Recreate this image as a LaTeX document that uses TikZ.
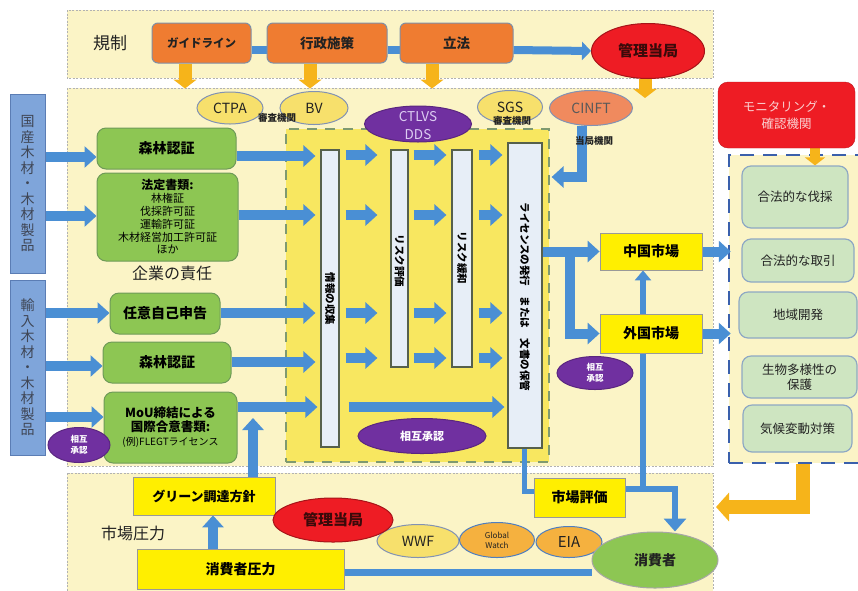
\documentclass[tikz,border=0pt]{standalone}
\usepackage{fontspec}
\setmainfont{Noto Sans CJK JP}
\usetikzlibrary{arrows.meta,shapes.geometric}
\pgfdeclarelayer{bg}
\pgfdeclarelayer{conn}
\pgfsetlayers{bg,conn,main}
\newcommand{\fsz}[2]{\fontsize{#1}{#2}\selectfont}
\definecolor{regY}{HTML}{FBF4C6}
\definecolor{innY}{HTML}{F8E760}
\definecolor{orF}{HTML}{EF7C31}
\definecolor{orB}{HTML}{7F8FA6}
\definecolor{redF}{HTML}{EE1C24}
\definecolor{grF}{HTML}{8DC653}
\definecolor{grB}{HTML}{6E9A58}
\definecolor{lgF}{HTML}{CEE5C1}
\definecolor{lgB}{HTML}{8EA8C4}
\definecolor{bbF}{HTML}{7FA5DA}
\definecolor{bbB}{HTML}{5B7DB4}
\definecolor{bbT}{HTML}{3F4655}
\definecolor{arB}{HTML}{4A8FD4}
\definecolor{arY}{HTML}{F6B41A}
\definecolor{puF}{HTML}{7030A0}
\definecolor{lav}{HTML}{DCCDF2}
\definecolor{yeE}{HTML}{F7E06C}
\definecolor{ellB}{HTML}{8192B4}
\definecolor{saF}{HTML}{F08A5E}
\definecolor{goF}{HTML}{F5B13F}
\definecolor{goB}{HTML}{4E7EC0}
\definecolor{ybF}{HTML}{FFEF00}
\definecolor{ybB}{HTML}{999999}
\definecolor{wbF}{HTML}{E7EEF7}
\definecolor{wbB}{HTML}{56604C}
\definecolor{gdash}{HTML}{7F9A70}
\definecolor{bdash}{HTML}{3A60AC}
\definecolor{txt}{HTML}{222222}
\definecolor{redT}{HTML}{3A0A0A}
\definecolor{pinkT}{HTML}{FAD0D0}
\begin{document}
\begin{tikzpicture}[x=1pt,y=-1pt,
  region/.style={draw=gray!60, dash pattern=on 2pt off 1.5pt, line width=0.8pt, fill=regY},
  obox/.style={rectangle, rounded corners=6pt, draw=orB, line width=1pt, fill=orF, text=txt, font=\bfseries\fsz{13.5}{16}, inner sep=0pt},
  gbox/.style={rectangle, rounded corners=9pt, draw=grB, line width=1pt, fill=grF, text=black, inner sep=0pt, font=\bfseries\fsz{14}{16}},
  lgbox/.style={rectangle, rounded corners=9pt, draw=lgB, line width=1.2pt, fill=lgF, text=txt, inner sep=0pt, font=\fsz{12.5}{15}},
  ybox/.style={rectangle, draw=ybB, line width=0.8pt, fill=ybF, text=black, inner sep=0pt, font=\bfseries\fsz{14}{16}},
  bbar/.style={rectangle, draw=bbB, line width=1pt, fill=bbF, text=bbT, inner sep=0pt, align=center, font=\fsz{14}{15.5}},
  wbar/.style={rectangle, draw=wbB, line width=1.2pt, fill=wbF, inner sep=0pt},
  vtext/.style={rotate=-90, font=\bfseries\fsz{10.5}{12}, text=black, inner sep=0pt},
  ell/.style={ellipse, inner sep=0pt, line width=1pt},
  yell/.style={ell, fill=yeE, draw=ellB, text=txt, font=\fsz{14}{16}},
  pell/.style={ell, fill=puF, draw=puF!80!black, text=white},
  rell/.style={ell, fill=redF, draw=redF!70!black, text=redT, font=\bfseries\fsz{15}{17}},
  oell/.style={ell, fill=goF, draw=goB, text=txt},
  smlab/.style={font=\bfseries\fsz{9.5}{11}, inner sep=0pt, text=txt},
  plain/.style={inner sep=0pt, text=txt},
  barr/.style={draw=arB, line width=10pt, -{Triangle[width=21pt,length=12pt]}},
  bline/.style={draw=arB, line width=8pt},
  yarr/.style={draw=arY, line width=13pt, -{Triangle[width=23pt,length=9pt]}}
]
\useasboundingbox (0,0) rectangle (858,590);
\begin{pgfonlayer}{bg}
\fill[white] (0,0) rectangle (858,590);
\draw[region] (67,10) rectangle (713,78);
\draw[region] (67,88) rectangle (713,466);
\draw[region] (67,473) rectangle (713,600);
\node[draw=gdash, dash pattern=on 10pt off 8pt, line width=2.5pt, fill=innY, minimum width=263, minimum height=333, inner sep=0pt] (inner) at (417.5,295.5) {};
\node[draw=bdash, dash pattern=on 14pt off 9pt, line width=2.5pt, fill=regY, minimum width=146, minimum height=308, inner sep=0pt] (mbox) at (802,309) {};
\end{pgfonlayer}

% ---------- top band
\node[plain, font=\fsz{17}{20}] (reg) at (110,43) {規制};
\node[obox, minimum width=99, minimum height=40, font=\bfseries\fsz{11.5}{14}] (gl) at (201.5,43) {ガイドライン};
\node[obox, minimum width=120, minimum height=40] (gs) at (327,43) {行政施策};
\node[obox, minimum width=113, minimum height=40] (lw) at (456.5,43) {立法};
\node[rell, minimum width=113, minimum height=55] (ma1) at (648,51) {管理当局};

% ---------- agencies
\node[yell, minimum width=66, minimum height=32] (ctpa) at (230,108) {CTPA};
\node[yell, minimum width=68, minimum height=33] (bv) at (314,108) {BV};
\node[pell, minimum width=107, minimum height=36] (ctlvs) at (418,124) {};
\node[plain, font=\fsz{13.5}{18}, text=lav, align=center] (ctlvsT) at (418,126) {CTLVS\\DDS};
\node[yell, minimum width=65, minimum height=33] (sgs) at (510,107) {SGS};
\node[ell, fill=saF, draw=ellB, text=txt!75, font=\fsz{14}{16}, minimum width=83, minimum height=35] (cinft) at (591,108) {CINFT};
\node[smlab] (sa1) at (277,118) {審査機関};
\node[smlab] (sa2) at (512,121) {審査機関};
\node[smlab] (ta) at (594,141) {当局機関};

% ---------- left bars
\node[bbar, minimum width=35, minimum height=179] (bb1) at (27.5,183.5) {国\\産\\木\\材\\・\\木\\材\\製\\品};
\node[bbar, minimum width=35, minimum height=175] (bb2) at (27.5,367.5) {輸\\入\\木\\材\\・\\木\\材\\製\\品};

% ---------- green boxes
\node[gbox, minimum width=139, minimum height=41] (fs1) at (166.5,148.5) {森林認証};
\node[gbox, minimum width=141, minimum height=88, align=center, font=\fsz{11}{12.8}] (ld) at (167.5,217) {{\bfseries\fsz{12}{12.8}法定書類:}\\林権証\\伐採許可証\\運輸許可証\\木材経営加工許可証\\ほか};
\node[plain, font=\fsz{16}{18}] (resp) at (172,273) {企業の責任};
\node[gbox, minimum width=110, minimum height=41] (vs) at (165,313.5) {任意自己申告};
\node[gbox, minimum width=128, minimum height=41] (fs2) at (167,362.5) {森林認証};
\node[gbox, minimum width=133, minimum height=71, align=center, font=\bfseries\fsz{12.5}{14}] (mou) at (170.5,427.5) {MoU締結による\\国際合意書類:\\{\mdseries\fsz{10}{14}(例)FLEGTライセンス}};
\node[pell, minimum width=62, minimum height=35] (mr1) at (79,445) {};
\node[plain, font=\bfseries\fsz{8.5}{11}, text=white, align=center] (mr1t) at (79,445) {相互\\承認};

% ---------- process bars
\node[wbar, minimum width=18, minimum height=297] (b1) at (330,298.5) {};
\node[wbar, minimum width=17, minimum height=217] (b2) at (399.5,258.5) {};
\node[wbar, minimum width=20, minimum height=217] (b3) at (462,258.5) {};
\node[wbar, minimum width=34, minimum height=305] (b4) at (525,295.5) {};
\node[vtext] (t1) at (330,299) {情報の収集};
\node[vtext] (t2) at (399.5,261) {リスク評価};
\node[vtext] (t3) at (462,258) {リスク緩和};
\node[vtext] (t4) at (525,297) {ライセンスの発行　または　文書の保管};
\node[pell, minimum width=128, minimum height=35, font=\bfseries\fsz{11}{13}] (mr2) at (422,436) {相互承認};

% ---------- markets
\node[ybox, minimum width=102, minimum height=37] (cm) at (651,251.5) {中国市場};
\node[ybox, minimum width=102, minimum height=39] (fm) at (651,333.5) {外国市場};
\node[pell, minimum width=76, minimum height=33] (mr3) at (595,373) {};
\node[plain, font=\bfseries\fsz{8.5}{11}, text=white, align=center] (mr3t) at (595,373) {相互\\承認};

% ---------- monitoring
\node[rectangle, rounded corners=10pt, fill=redF, draw=redF!80!black, minimum width=137, minimum height=66, align=center, text=pinkT, font=\fsz{12.5}{17}] (mon) at (786.5,115) {モニタリング・\\確認機関};
\node[lgbox, minimum width=106, minimum height=62] (g1) at (795,197) {合法的な伐採};
\node[lgbox, minimum width=112, minimum height=43] (g2) at (798,260.5) {合法的な取引};
\node[lgbox, minimum width=118, minimum height=46] (g3) at (798,315) {地域開発};
\node[lgbox, minimum width=115, minimum height=42, align=center] (g4) at (799.5,377) {生物多様性の\\保護};
\node[lgbox, minimum width=109, minimum height=47] (g5) at (797.5,428.5) {気候変動対策};

% ---------- bottom band
\node[plain, font=\fsz{16}{18}] (mp) at (133,533) {市場圧力};
\node[ybox, minimum width=142, minimum height=38, font=\bfseries\fsz{13}{16}] (gp) at (204,496) {グリーン調達方針};
\node[ybox, minimum width=207, minimum height=40] (cp) at (240.5,569) {消費者圧力};
\node[ybox, minimum width=91, minimum height=39] (me) at (579.5,497.5) {市場評価};
\node[yell, minimum width=82, minimum height=33] (wwf) at (418,541) {WWF};
\node[rell, minimum width=120, minimum height=44] (ma2) at (333,520) {管理当局};
\node[oell, minimum width=75, minimum height=35, font=\fsz{8}{10}, align=center] (gw) at (497,540) {Global\\Watch};
\node[oell, minimum width=66, minimum height=31, font=\fsz{15}{17}] (eia) at (569,542) {EIA};
\node[ell, fill=grF, draw=gray!70, text=txt, minimum width=126, minimum height=56, font=\bfseries\fsz{14}{16}] (cons) at (655,560) {消費者};

\coordinate (jn) at (570,251.5);
\coordinate (me2) at (643,489);
\coordinate (upT) at (253,418);
\coordinate (yb) at (716,507);

\begin{pgfonlayer}{conn}
% top
\draw[bline] (gl.east |- 0,50) -- (gs.west |- 0,50);
\draw[bline] (gs.east |- 0,50) -- (lw.west |- 0,50);
\draw[barr, line width=8pt, -{Triangle[width=18pt,length=9pt]}] (lw.east |- 0,50) -- (ma1.west);
\draw[yarr] (gl.south -| 185,0) -- ++(0,25);
\draw[yarr] (gs.south -| 310,0) -- ++(0,25);
\draw[yarr] (lw.south -| 432,0) -- ++(0,25);
\draw[yarr] (ma1.south -| 645,0) -- ++(0,19);
% inputs
\draw[barr] (bb1.east |- 0,157) -- (fs1.west |- 0,157);
\draw[barr] (bb1.east |- 0,216) -- (ld.west |- 0,216);
\draw[barr] (bb2.east |- 0,313) -- (vs.west |- 0,313);
\draw[barr] (bb2.east |- 0,366) -- (fs2.west |- 0,366);
\draw[barr] (bb2.east |- 0,417) -- (mou.west |- 0,417);
% to bar1
\draw[barr, shorten >=5pt] (fs1.east |- 0,156) -- (b1.west |- 0,156);
\draw[barr, shorten >=5pt] (ld.east |- 0,215) -- (b1.west |- 0,215);
\draw[barr, shorten >=5pt] (vs.east |- 0,313) -- (b1.west |- 0,313);
\draw[barr, shorten >=5pt] (fs2.east |- 0,362) -- (b1.west |- 0,362);
\draw[barr, shorten >=3pt] (mou.east |- 0,407) -- (b1.west |- 0,407);
% between bars
\foreach \yy in {155,215,313,358} {
  \draw[barr, shorten <=6pt, shorten >=13pt] (b1.east |- 0,\yy) -- (b2.west |- 0,\yy);
  \draw[barr, shorten <=5pt, shorten >=5pt] (b2.east |- 0,\yy) -- (b3.west |- 0,\yy);
  \draw[barr, shorten <=6pt, shorten >=5pt] (b3.east |- 0,\yy) -- (b4.west |- 0,\yy);
}
\draw[barr, shorten <=9pt, shorten >=3pt] (b1.east |- 0,407) -- (b4.west |- 0,407);
% CINFT
\draw[barr, shorten >=9pt] (cinft.south -| 582,0) |- (b4.east |- 0,177);
% markets
\draw[barr] (b4.east |- cm.west) -- (cm.west);
\draw[barr] (jn) |- (fm.west);
\draw[barr, shorten >=-3pt] (cm.east) -- (mbox.west |- cm.east);
\draw[barr, shorten >=-3pt] (fm.east) -- (mbox.west |- fm.east);
\draw[barr, line width=6pt, -{Triangle[width=16pt,length=10pt]}] (me2) -- (cm.south -| me2);
\draw[barr, line width=6pt, -{Triangle[width=22pt,length=13pt]}] (me.east |- me2) -| (cons.north -| 675,0);
\draw[bline, line width=5pt] (b4.south -| 524,0) |- (me.west |- 0,491);
% bottom
\draw[bline, line width=7pt] (cp.east |- 0,572) -- (cons.west |- 0,572);
\draw[barr] (cp.north -| 213,0) -- (gp.south -| 213,0);
\draw[barr] (gp.north -| upT) -- (upT);
% monitoring
\draw[yarr, line width=10pt, -{Triangle[width=20pt,length=8pt]}] (mon.south -| 815,0) -- (g1.north -| 815,0);
\draw[yarr, line width=14pt, -{Triangle[width=28pt,length=13pt]}] (mbox.south -| 803,0) |- (yb);
\end{pgfonlayer}
\end{tikzpicture}
\end{document}
